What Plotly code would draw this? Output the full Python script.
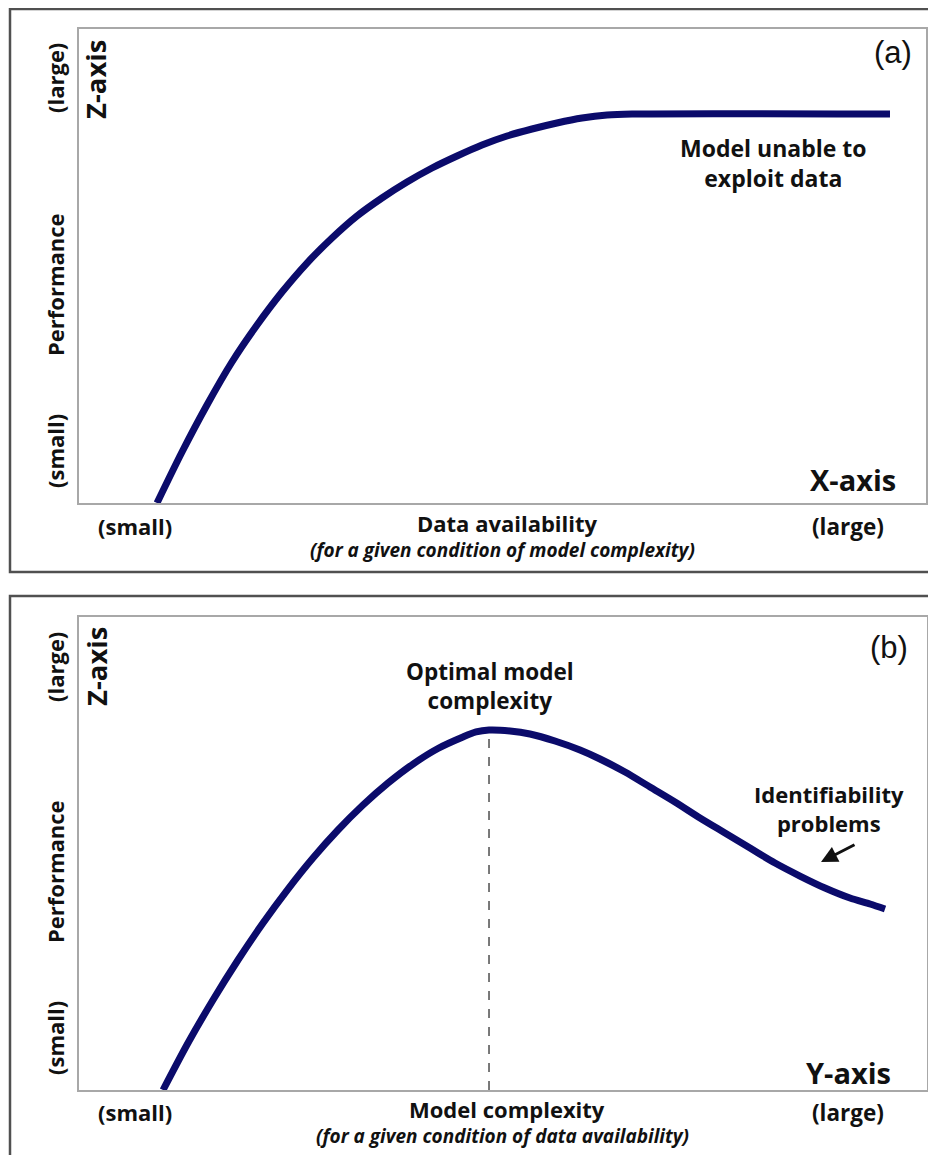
import plotly.graph_objects as go

OFF = 8  # page body margin
W, H = 936 - OFF, 1155 - OFF

# Panel (a): performance vs data availability (normalised axis units 0..1)
a_x = [0.0921, 0.1216, 0.1511, 0.1806, 0.2102, 0.2397, 0.2692, 0.2987, 0.3282, 0.3577, 0.3873,
       0.4168, 0.4463, 0.4758, 0.5053, 0.5348, 0.5643, 0.5939, 0.6234, 0.6529, 0.9575]
a_y = [0.0000, 0.1076, 0.2068, 0.2975, 0.3755, 0.4451, 0.5063, 0.5591, 0.6055, 0.6435, 0.6772,
       0.7068, 0.7321, 0.7553, 0.7743, 0.7890, 0.8017, 0.8122, 0.8186, 0.8207, 0.8207]

# Panel (b): performance vs model complexity
b_x = [0.0991, 0.1285, 0.1580, 0.1875, 0.2170, 0.2465, 0.2759, 0.3054, 0.3349, 0.3644, 0.3939,
       0.4233, 0.4528, 0.4682, 0.4835, 0.5083, 0.5318, 0.5613, 0.5908, 0.6144, 0.6439, 0.6733,
       0.7028, 0.7323, 0.7618, 0.7913, 0.8208, 0.8502, 0.8797, 0.9092, 0.9328, 0.9505]
b_y = [0.0000, 0.0994, 0.1903, 0.2748, 0.3531, 0.4249, 0.4905, 0.5497, 0.6025, 0.6490, 0.6892,
       0.7220, 0.7463, 0.7569, 0.7611, 0.7590, 0.7526, 0.7378, 0.7188, 0.6998, 0.6723, 0.6406,
       0.6089, 0.5751, 0.5433, 0.5116, 0.4799, 0.4524, 0.4271, 0.4059, 0.3932, 0.3827]
b_peak = (0.4835, 0.7611)

a_xlabel = "Data availability"
a_xsub = "(for a given condition of model complexity)"
b_xlabel = "Model complexity"
b_xsub = "(for a given condition of data availability)"

LINE = "#0b0b6b"
TXT = "#111111"
BOLD = "'Open Sans', Lato, sans-serif"


def px(x):
    return (x - OFF) / W


def py(y):
    return 1 - (y - OFF) / H


fig = go.Figure()
fig.add_trace(go.Scatter(x=a_x, y=a_y, mode="lines", line=dict(color=LINE, width=7, shape="spline", smoothing=0.8),
                         xaxis="x", yaxis="y", showlegend=False, hoverinfo="skip"))
fig.add_trace(go.Scatter(x=b_x, y=b_y, mode="lines", line=dict(color=LINE, width=7, shape="spline", smoothing=0.8),
                         xaxis="x2", yaxis="y2", showlegend=False, hoverinfo="skip"))

ax_common = dict(range=[0, 1], showgrid=False, zeroline=False, showticklabels=False, ticks="",
                 showline=True, mirror=True, linecolor="#a8a8a8", linewidth=2, fixedrange=True)

fig.update_layout(
    width=W, height=H, margin=dict(l=0, r=0, t=0, b=0),
    paper_bgcolor="white", plot_bgcolor="white",
    xaxis=dict(domain=[px(79), px(926)], anchor="y", **ax_common),
    yaxis=dict(domain=[py(503), py(29)], anchor="x", **ax_common),
    xaxis2=dict(domain=[px(79), px(927)], anchor="y2", **ax_common),
    yaxis2=dict(domain=[py(1090), py(617)], anchor="x2", **ax_common),
)

# outer frames
fig.add_shape(type="rect", xref="paper", yref="paper", x0=px(10), x1=px(945), y0=py(572), y1=py(9),
              line=dict(color="#505050", width=2.5), fillcolor="rgba(0,0,0,0)", layer="below")
fig.add_shape(type="rect", xref="paper", yref="paper", x0=px(10), x1=px(945), y0=py(1165), y1=py(596),
              line=dict(color="#505050", width=2.5), fillcolor="rgba(0,0,0,0)", layer="below")

# dashed line at optimum
fig.add_shape(type="line", xref="x2", yref="y2", x0=b_peak[0], x1=b_peak[0], y0=0, y1=b_peak[1],
              line=dict(color="#222222", width=1.2, dash="dash"))


def txt(text, x, y, size, bold=True, italic=False, angle=0, family=BOLD):
    t = text
    if italic:
        t = "<i>" + t + "</i>"
    if bold:
        t = "<b>" + t + "</b>"
    fig.add_annotation(text=t, x=px(x), y=py(y), xref="paper", yref="paper", showarrow=False,
                       xanchor="center", yanchor="middle", textangle=angle,
                       font=dict(family=family, size=size, color=TXT))


for off, xlab, xsub, axname in [(0, a_xlabel, a_xsub, "X-axis"), (1, b_xlabel, b_xsub, "Y-axis")]:
    if off == 0:
        ylarge, zax, perf, ysmall = 78, 80, 285, 451
        xrow, xsubrow, axrow = 526, 550, 480
    else:
        ylarge, zax, perf, ysmall = 667, 667, 872, 1038
        xrow, xsubrow, axrow = 1112, 1136, 1072
    txt("(large)", 55, ylarge, 22, angle=-90)
    txt("Z-axis", 96, zax, 27.5, angle=-90)
    txt("Performance", 55, perf, 22, angle=-90)
    txt("(small)", 55, ysmall, 22, angle=-90)
    txt("(small)", 135, xrow, 22)
    txt("(large)", 848, xrow, 22.5)
    txt(xlab, 507, xrow - 3, 22)
    txt(xsub, 502, xsubrow, 19, italic=True)
    txt(axname, 853 if off == 0 else 848, axrow, 29)

txt("(a)", 893, 52, 31, bold=False, family="'Liberation Sans', Arial, sans-serif")
txt("(b)", 889, 647, 31, bold=False, family="'Liberation Sans', Arial, sans-serif")
txt("Model unable to<br>exploit data", 773, 163, 23)
txt("Optimal model<br>complexity", 490, 686, 22.5)
txt("Identifiability<br>problems", 829, 808, 22)

# arrow towards identifiability region
fig.add_annotation(x=px(821), y=py(862), xref="paper", yref="paper", ax=35, ay=-18,
                   showarrow=True, arrowhead=2, arrowsize=1.1, arrowwidth=3, arrowcolor="#111111", text="")

fig.write_html("out.html")
